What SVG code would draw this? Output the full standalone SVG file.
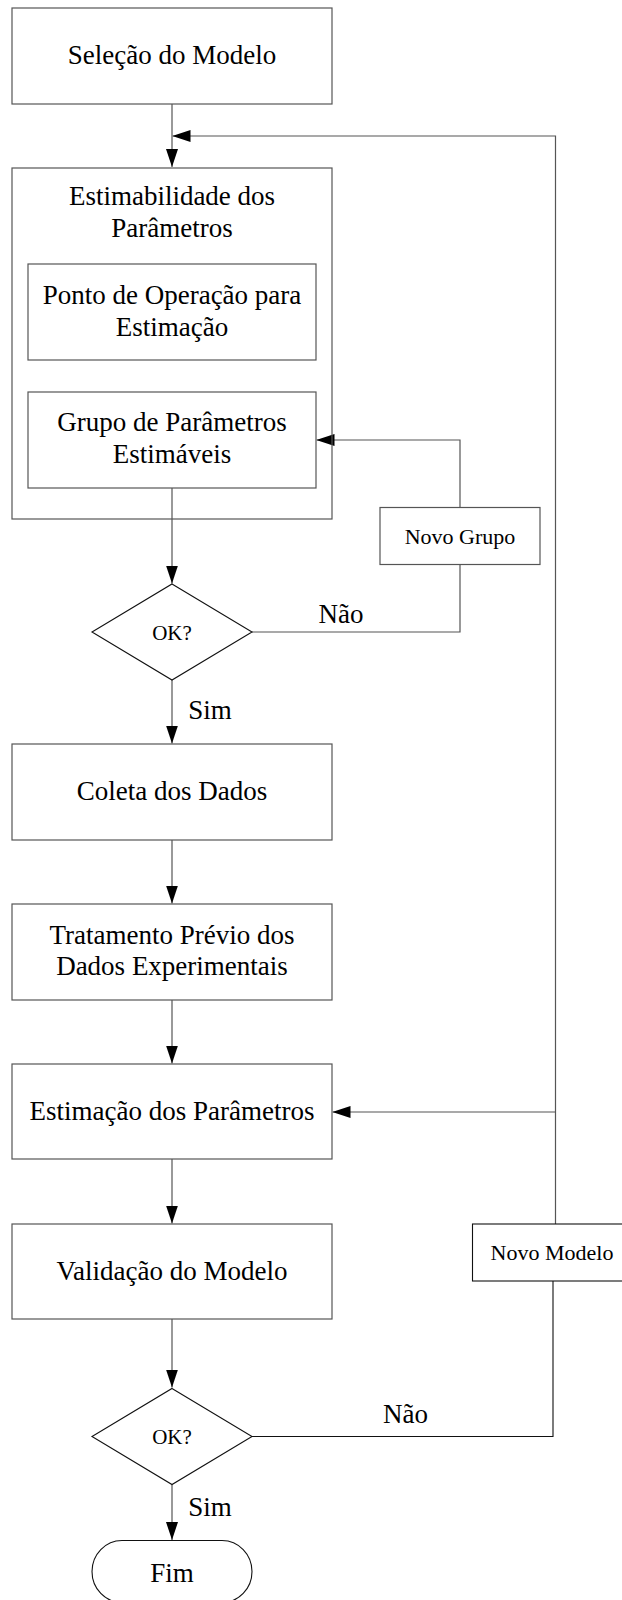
<svg xmlns="http://www.w3.org/2000/svg" width="622" height="1600" viewBox="0 0 622 1600">
<style>
.box{fill:#fff;stroke:#555;stroke-width:1.2}
.dk{fill:#fff;stroke:#111;stroke-width:1.1}
.ln{fill:none;stroke:#555;stroke-width:1.2}
.lk{fill:none;stroke:#111;stroke-width:1.1}
text{font-family:"Liberation Serif","Times New Roman",serif;fill:#000;text-anchor:middle}
.t{font-size:27px}
.s{font-size:22px}
.q{font-size:21px}
</style>
<defs>
<marker id="ah" markerUnits="userSpaceOnUse" markerWidth="18" markerHeight="12" refX="18" refY="6" orient="auto">
<path d="M0,0 L18,6 L0,12 z" fill="#000"/>
</marker>
</defs>
<g id="connectors">
<path class="ln" d="M172,104 V167" marker-end="url(#ah)"/>
<path class="ln" d="M555.5,1224 V136 H172.5" marker-end="url(#ah)"/>
<path class="ln" d="M555.5,1112 H332.5" marker-end="url(#ah)"/>
<path class="ln" d="M172,488 V583.5" marker-end="url(#ah)"/>
<path class="ln" d="M252,632 H460 V565"/>
<path class="ln" d="M460,507 V440 H316.5" marker-end="url(#ah)"/>
<path class="ln" d="M172,680 V743.5" marker-end="url(#ah)"/>
<path class="ln" d="M172,840 V903.5" marker-end="url(#ah)"/>
<path class="ln" d="M172,1000 V1063.5" marker-end="url(#ah)"/>
<path class="ln" d="M172,1159 V1223.5" marker-end="url(#ah)"/>
<path class="ln" d="M172,1319 V1387.5" marker-end="url(#ah)"/>
<path class="lk" d="M252,1436.5 H553 V1281"/>
<path class="ln" d="M172,1484.5 V1540" marker-end="url(#ah)"/>
<text class="t" x="341" y="623">Não</text>
<text class="t" x="210" y="719">Sim</text>
<text class="t" x="405.5" y="1423">Não</text>
<text class="t" x="210" y="1516">Sim</text>
</g>
<g id="selecao">
<rect class="box" x="12" y="8" width="320" height="96"/>
<text class="t" x="172" y="63.5">Seleção do Modelo</text>
</g>
<g id="estimabilidade">
<rect class="box" x="12" y="168" width="320" height="351" fill="none" style="fill:none"/>
<text class="t" x="172" y="205">Estimabilidade dos</text>
<text class="t" x="172" y="237">Parâmetros</text>
</g>
<g id="ponto">
<rect class="box" x="28" y="264" width="288" height="96"/>
<text class="t" x="172" y="304">Ponto de Operação para</text>
<text class="t" x="172" y="335.5">Estimação</text>
</g>
<g id="grupo">
<rect class="box" x="28" y="392" width="288" height="96"/>
<text class="t" x="172" y="431">Grupo de Parâmetros</text>
<text class="t" x="172" y="463">Estimáveis</text>
</g>
<g id="novo-grupo">
<rect class="box" x="380" y="507.5" width="160" height="57"/>
<text class="s" x="460" y="543.5">Novo Grupo</text>
</g>
<g id="ok1">
<polygon class="dk" points="172,584 252,632 172,680 92,632"/>
<text class="q" x="172" y="639.5">OK?</text>
</g>
<g id="coleta">
<rect class="box" x="12" y="744" width="320" height="96"/>
<text class="t" x="172" y="800">Coleta dos Dados</text>
</g>
<g id="tratamento">
<rect class="box" x="12" y="904" width="320" height="96"/>
<text class="t" x="172" y="943.5">Tratamento Prévio dos</text>
<text class="t" x="172" y="975">Dados Experimentais</text>
</g>
<g id="estimacao">
<rect class="box" x="12" y="1064" width="320" height="95"/>
<text class="t" x="172" y="1120">Estimação dos Parâmetros</text>
</g>
<g id="validacao">
<rect class="box" x="12" y="1224" width="320" height="95"/>
<text class="t" x="172" y="1280">Validação do Modelo</text>
</g>
<g id="novo-modelo">
<rect class="dk" x="472.5" y="1224" width="160" height="57"/>
<text class="s" x="552" y="1259.5">Novo Modelo</text>
</g>
<g id="ok2">
<polygon class="dk" points="172,1388.5 252,1436.5 172,1484.5 92,1436.5"/>
<text class="q" x="172" y="1443.5">OK?</text>
</g>
<g id="fim">
<rect class="dk" x="92" y="1540.5" width="160" height="62" rx="30" ry="31"/>
<text class="t" x="172" y="1582">Fim</text>
</g>
</svg>
